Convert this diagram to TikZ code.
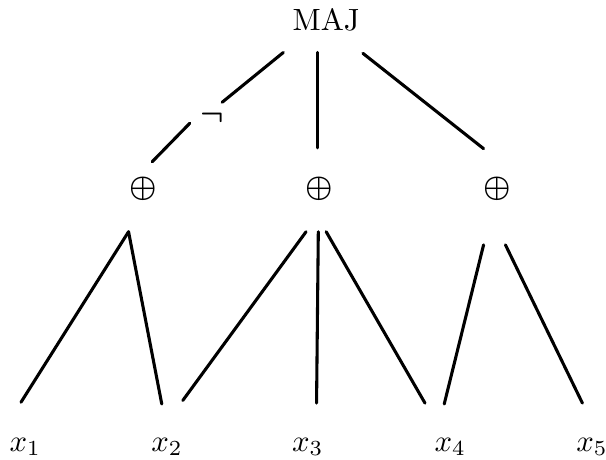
\documentclass[tikz,border=0pt]{standalone}
\usepackage{amsmath}
\begin{document}
\begin{tikzpicture}[line cap=round,line join=round]
  \tikzset{edge/.style={line width=1pt}}
  \useasboundingbox (0,0) rectangle (6.93,-5.26);
  \node (maj) at (3.73,-0.23) {MAJ};
  \node (neg) at (2.43,-1.34) {$\boldsymbol{\neg}$};
  \node (o1) at (1.64,-2.16) {$\boldsymbol{\oplus}$};
  \node (o2) at (3.65,-2.16) {$\boldsymbol{\oplus}$};
  \node (o3) at (5.69,-2.16) {$\boldsymbol{\oplus}$};
  \node (x1) at (0.29,-5.11) {$x_1$};
  \node (x2) at (1.91,-5.11) {$x_2$};
  \node (x3) at (3.52,-5.11) {$x_3$};
  \node (x4) at (5.15,-5.11) {$x_4$};
  \node (x5) at (6.77,-5.11) {$x_5$};
  \draw[edge] ([shift={(-0.49,-0.37)}]maj.center) -- ([shift={(0.11,0.17)}]neg.center);
  \draw[edge] ([shift={(-0.26,-0.07)}]neg.center) -- ([shift={(0.10,0.31)}]o1.center);
  \draw[edge] ([shift={(-0.10,-0.37)}]maj.center) -- ([shift={(-0.02,0.47)}]o2.center);
  \draw[edge] ([shift={(0.42,-0.38)}]maj.center) -- ([shift={(-0.16,0.46)}]o3.center);
  \draw[edge] ([shift={(-0.17,-0.49)}]o1.center) -- ([shift={(-0.05,0.51)}]x1.center);
  \draw[edge] ([shift={(-0.17,-0.49)}]o1.center) -- ([shift={(-0.06,0.49)}]x2.center);
  \draw[edge] ([shift={(-0.15,-0.49)}]o2.center) -- ([shift={(0.18,0.53)}]x2.center);
  \draw[edge] ([shift={(-0.01,-0.49)}]o2.center) -- ([shift={(0.10,0.50)}]x3.center);
  \draw[edge] ([shift={(0.08,-0.49)}]o2.center) -- ([shift={(-0.29,0.50)}]x4.center);
  \draw[edge] ([shift={(-0.16,-0.64)}]o3.center) -- ([shift={(-0.07,0.49)}]x4.center);
  \draw[edge] ([shift={(0.09,-0.64)}]o3.center) -- ([shift={(-0.11,0.50)}]x5.center);
\end{tikzpicture}
\end{document}
